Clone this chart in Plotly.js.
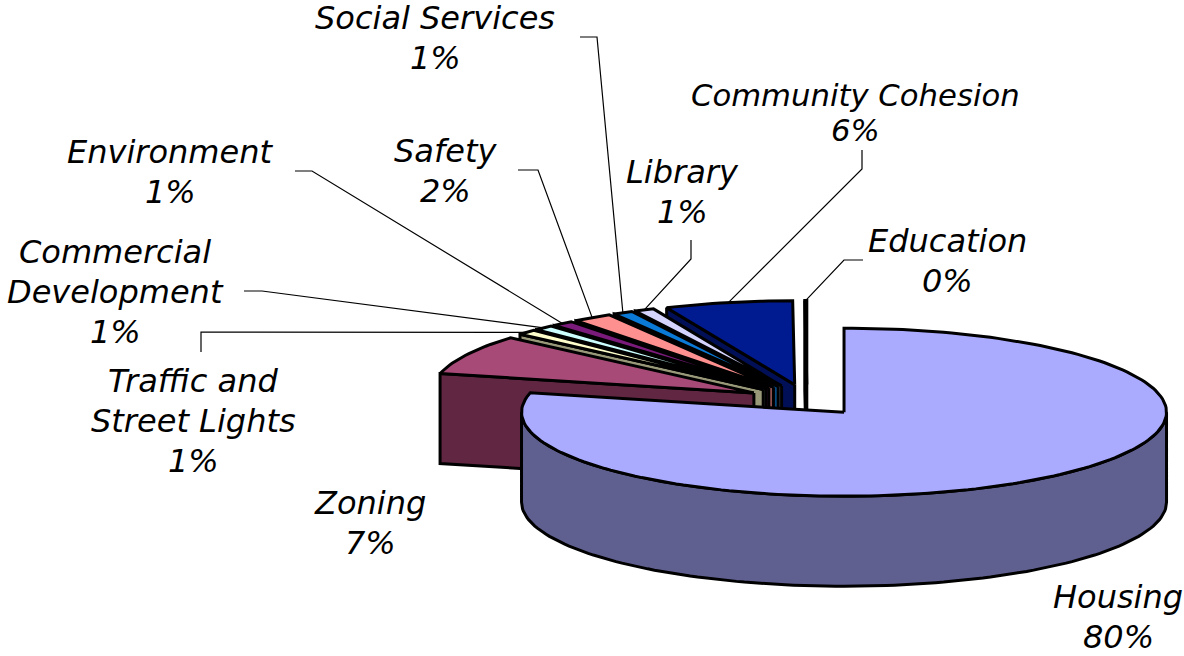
<!DOCTYPE html>
<html><head><meta charset="utf-8">
<script src="https://cdn.plot.ly/plotly-3.0.1.min.js"></script>
<style>html,body{margin:0;padding:0;background:#fff}#c{width:1184px;height:656px}</style></head>
<body><div id="c"></div><script>
// Data
const categories = ['Housing','Zoning','Traffic and Street Lights','Commercial Development','Environment','Safety','Social Services','Library','Community Cohesion','Education'];
const printedPct = [80,7,1,1,1,2,1,1,6,0];
// Slice sweep as measured on the picture (percent of circle)
const sliceShares = [78.7,7.7,1.0,1.0,1.1,2.0,1.0,1.0,6.4,0.1];
const topColors  = ['#AAAAFF','#A84A78','#FFFFCC','#CCFFFF','#7A1A7A','#FF9090','#0A7AD6','#D4D4FF','#001A90','#FF00FF'];
const sideColors = ['#606090','#602642','#99997A','#7A9999','#4A104A','#995656','#064A80','#80809A','#000F56','#990099'];
const labelLines = [['Housing'],['Zoning'],['Traffic and','Street Lights'],['Commercial','Development'],['Environment'],['Safety'],['Social Services'],['Library'],['Community Cohesion'],['Education']];

// Projection settings
const cx=807, cy=400, rx=322.5, ry=84, depth=90, explode=59.7/322.5;
const labelCentre=[[1118,597],[370,503],[193,381],[115,252],[170,152],[445,151],[435,18],[682,172],[855,95],[947,241]];
const lineGap=[40,40,40,40,40,40,40,40,35,40];
const labelSize=[32,32,32,32,32,32,32,32,30.7,32];
const elbows=[null,null,[[201,352],[201,332]],[[244,291],[262,291]],[[295,171],[312,171]],[[518,170],[538,170]],[[580,37],[597,37]],[[691,240],[691,259]],[[862,150],[862,169]],[[863,260],[844,260]]];

const rad=d=>d*Math.PI/180, total=sliceShares.reduce((a,b)=>a+b,0);
let acc=0;
const slices=sliceShares.map((v,i)=>{const a0=acc/total*360;acc+=v;const a1=acc/total*360;const m=(a0+a1)/2;
  return {i,a0,a1,m,ax:cx+explode*rx*Math.sin(rad(m)),ay:cy-explode*ry*Math.cos(rad(m))};});
const rim=(s,t)=>[s.ax+rx*Math.sin(rad(t)),s.ay-ry*Math.cos(rad(t))];
const arc=(s,a,b,dy=0)=>{const n=Math.max(2,Math.ceil(Math.abs(b-a)/1.5)),o=[];for(let k=0;k<=n;k++){const p=rim(s,a+(b-a)*k/n);o.push([p[0],p[1]+dy]);}return o;};
const traces=[];
const poly=(pts,fill)=>{const c=pts.concat([pts[0]]);traces.push({type:'scatter',mode:'lines',x:c.map(p=>p[0]),y:c.map(p=>p[1]),fill:'toself',fillcolor:fill,line:{color:'#000',width:3},hoverinfo:'skip',showlegend:false});};

// Leader lines
slices.forEach((s,i)=>{ if(!elbows[i])return; const end=rim(s,s.m); const pts=elbows[i].concat([end]);
  traces.push({type:'scatter',mode:'lines',x:pts.map(p=>p[0]),y:pts.map(p=>p[1]),line:{color:'#000',width:1.2},hoverinfo:'skip',showlegend:false});});

// Painter order: back slices first, housing last; only viewer-facing walls
[...slices].reverse().forEach(s=>{
  const i=s.i, A=[s.ax,s.ay], Ad=[s.ax,s.ay+depth];
  const wall=t=>{const p=rim(s,t);poly([A,p,[p[0],p[1]+depth],Ad],sideColors[i]);};
  if(Math.sin(rad(s.a0))<-1e-6) wall(s.a0);
  if(Math.sin(rad(s.a1))>1e-6) wall(s.a1);
  const lo=Math.max(s.a0,90), hi=Math.min(s.a1,270);
  if(hi>lo){poly(arc(s,lo,hi).concat(arc(s,hi,lo,depth)),sideColors[i]);}
  poly([A].concat(arc(s,s.a0,s.a1)),topColors[i]);
});

// Labels, one annotation per line so the line spacing matches
const annotations=[];
const lab=(t,x,y,size)=>annotations.push({text:t,x,y,xref:'x',yref:'y',showarrow:false,xanchor:'center',yanchor:'middle',font:{family:'DejaVu Sans',size,style:'italic',color:'#000'}});
categories.forEach((c,i)=>{const L=labelLines[i].concat([printedPct[i]+'%']);L.forEach((t,k)=>lab(t,labelCentre[i][0],labelCentre[i][1]+k*lineGap[i],labelSize[i]));});

Plotly.newPlot('c',traces,{width:1184,height:656,margin:{l:0,r:0,t:0,b:0},paper_bgcolor:'#fff',plot_bgcolor:'#fff',showlegend:false,
  xaxis:{range:[0,1184],visible:false,fixedrange:true},yaxis:{range:[656,0],visible:false,fixedrange:true},annotations},{displayModeBar:false,staticPlot:true});
</script></body></html>
